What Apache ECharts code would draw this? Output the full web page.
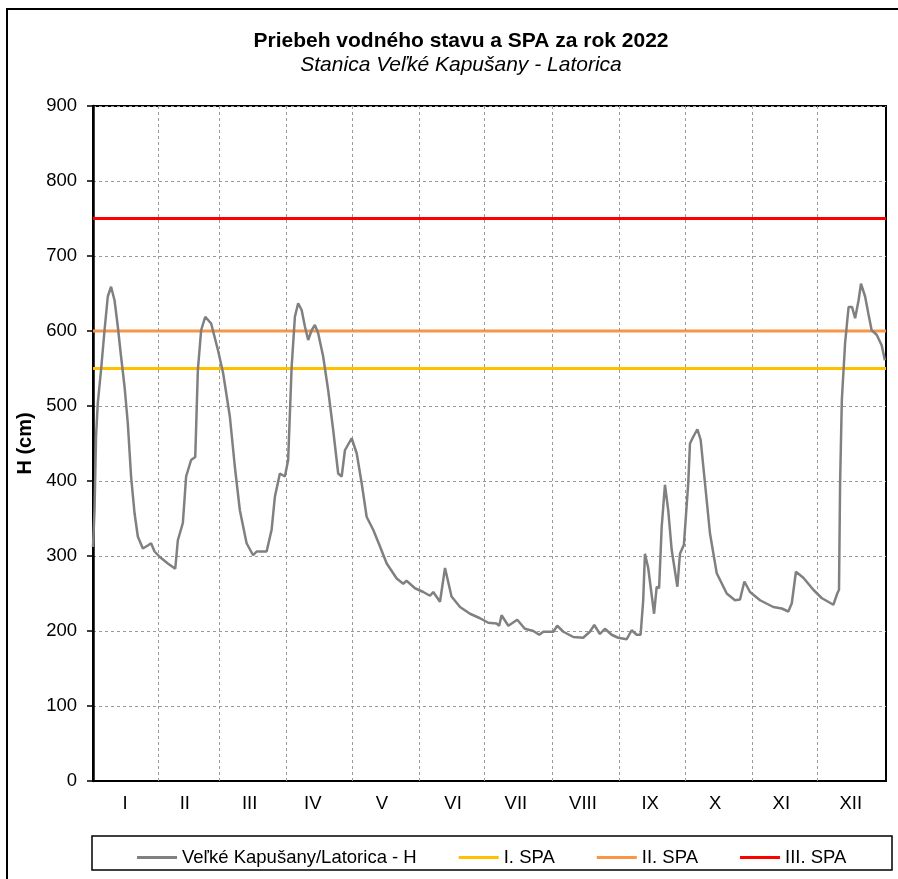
<!DOCTYPE html>
<html>
<head>
<meta charset="utf-8">
<script src="https://cdn.jsdelivr.net/npm/echarts@6/dist/echarts.min.js"></script>
<style>
html,body{margin:0;padding:0;background:#fff;}
#chart{width:898px;height:879px;}
</style>
</head>
<body>
<div id="chart"></div>
<script>
// Day position within 2022 (fractional, 1 = 1 Jan) and water level H (cm)
const days = [1,1.7,2.4,3.2,4.7,6.3,7.8,9.3,10.9,12.4,13.9,15.5,17,18.5,20.1,21.6,23.9,26.2,27.7,29.3,31.6,35.4,38.8,40,42.3,43.8,46.1,48,49.2,50.7,52.6,55.3,58.4,60.8,63.9,66.2,68.5,71.6,74.6,76.2,80.8,83.1,84.6,86.9,89.2,90.7,92.3,93.8,95.3,96.9,98.4,99.9,101.5,103,104.5,106.8,109.1,111.4,113.7,115.3,116.8,119.9,122.2,124.5,126.8,129.8,132.6,136,140.6,143.6,145.1,149,152.8,155.9,157.4,160.5,162.8,163.5,165.8,169.7,174.3,178.9,182.7,186.5,187.7,188.8,191.9,196,199.5,203.4,206.1,208,212.6,214.4,217.2,221.8,226.3,229.4,231.4,234,236.3,239.4,242.4,246.3,248.6,250.9,252.7,253.9,254.7,256.2,258.9,260.1,261.2,262.4,263.9,265.4,267,269.6,270.8,272.6,274.6,275.4,276.9,278.8,280.3,282.3,284.6,287.7,292.3,296.1,298.4,300.4,303,307.6,313.7,317.6,320.6,322.2,324.1,327.5,332.1,335.9,341.3,343.1,343.9,344.4,345.2,346.7,348.3,349.9,351.3,352.9,354,355.9,357.4,358.9,361.2,363.5,365];
const levels = [312,361,459,504,548,601,646,659,641,606,566,526,477,406,357,326,310,314,317,306,299,290,283,321,344,406,428,432,548,601,619,610,575,544,486,419,361,317,301,306,306,335,379,410,406,428,552,619,637,628,606,588,601,608,597,566,521,468,410,406,441,457,437,397,352,335,315,290,270,263,267,257,252,247,252,239,284,284,246,232,223,217,211,210,207,221,207,215,203,200,195,199,199,207,199,192,191,199,208,196,203,195,191,189,201,195,195,241,303,284,223,259,257,339,395,361,308,259,303,315,397,450,459,469,455,397,330,277,250,241,242,266,252,241,232,230,226,237,279,271,255,244,235,250,255,397,508,584,632,632,617,641,663,646,623,601,595,581,561];

const spaNames = ['I. SPA','II. SPA','III. SPA'];
const spaLevels = [550, 600, 750];
const spaColors = ['#FFC000','#F79646','#FF0000'];

const monthLabels = ['I','II','III','IV','V','VI','VII','VIII','IX','X','XI','XII'];
const monthLabelPos = [15.7,43.2,73,102,133.8,166.5,195.4,226.2,257.1,287,317.4,349.3];
const monthEnds = [31,59,90,120,151,181,212,243,273,304,334];

const seriesName = 'Veľké Kapušany/Latorica - H';
const xMin = 1, xMax = 365.5;
const FONT = "'Liberation Sans', Arial, sans-serif";

const chart = echarts.init(document.getElementById('chart'));

const series = [
  {
    name: '_grid', type: 'line', data: [], z: 1, silent: true,
    markLine: {
      silent: true, symbol: ['none','none'], animation: false,
      label: {show: false},
      lineStyle: {color: '#9a9a9a', type: [3,3], width: 1},
      data: monthEnds.map(v => ({xAxis: v}))
    }
  },
  {
    name: seriesName, type: 'line', z: 5,
    data: days.map((d, i) => [d, levels[i]]),
    showSymbol: false, symbol: 'none',
    lineStyle: {color: '#808080', width: 2.5},
    itemStyle: {color: '#808080'}
  }
];
spaNames.forEach((n, i) => {
  series.push({
    name: n, type: 'line', z: 4,
    data: [[xMin, spaLevels[i]], [xMax, spaLevels[i]]],
    showSymbol: false, symbol: 'none',
    lineStyle: {color: spaColors[i], width: 3},
    itemStyle: {color: spaColors[i]}
  });
});

chart.setOption({
  animation: false,
  backgroundColor: '#fff',
  textStyle: {fontFamily: FONT},
  title: {
    text: 'Priebeh vodného stavu a SPA za rok 2022',
    subtext: 'Stanica Veľké Kapušany - Latorica',
    left: 456, top: 26, textAlign: 'center', itemGap: 3,
    textStyle: {fontFamily: FONT, fontSize: 21, fontWeight: 'bold', color: '#000'},
    subtextStyle: {fontFamily: FONT, fontSize: 21, fontStyle: 'italic', color: '#000'}
  },
  grid: {left: 93, right: 12, top: 106, bottom: 98, show: true, borderColor: '#000', borderWidth: 2, backgroundColor: 'transparent'},
  legend: {
    data: [seriesName].concat(spaNames),
    left: 132, top: 843, itemGap: 42, itemWidth: 40, itemHeight: 3, icon: 'rect',
    textStyle: {fontFamily: FONT, fontSize: 18.5, color: '#000'}
  },
  xAxis: {
    type: 'value', min: xMin, max: xMax,
    axisLine: {show: true, onZero: false, lineStyle: {color: '#000', width: 2}},
    axisTick: {show: false},
    splitLine: {show: false},
    axisLabel: {
      customValues: monthLabelPos,
      formatter: v => { const i = monthLabelPos.indexOf(v); return i >= 0 ? monthLabels[i] : ''; },
      fontFamily: FONT, fontSize: 18.5, color: '#000', margin: 13
    }
  },
  yAxis: {
    type: 'value', min: 0, max: 900, interval: 100,
    name: 'H (cm)', nameLocation: 'middle', nameGap: 55, nameRotate: 90,
    nameTextStyle: {fontFamily: FONT, fontSize: 20, fontWeight: 'bold', color: '#000'},
    axisLine: {show: true, lineStyle: {color: '#000', width: 2.5}},
    axisTick: {show: true, length: 6, lineStyle: {color: '#000', width: 1.5}},
    axisLabel: {fontFamily: FONT, fontSize: 18.5, color: '#000', margin: 16},
    splitLine: {show: true, lineStyle: {color: '#9a9a9a', type: [3,3], width: 1}}
  },
  graphic: [
    {type: 'rect', silent: true, z: -1, shape: {x: 7, y: 9, width: 1000, height: 1000}, style: {fill: 'none', stroke: '#000', lineWidth: 2}},
    {type: 'rect', silent: true, shape: {x: 92, y: 836, width: 800, height: 34}, style: {fill: 'none', stroke: '#000', lineWidth: 1.5}}
  ],
  series: series
});
</script>
</body>
</html>
